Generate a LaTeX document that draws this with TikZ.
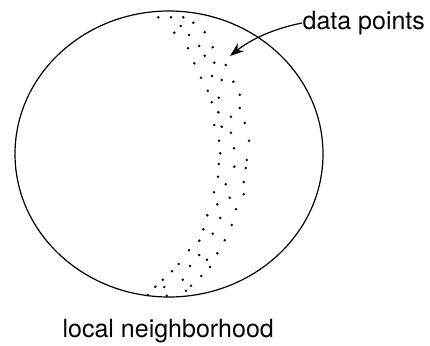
\documentclass[tikz,border=0pt]{standalone}
\usepackage{fontspec}
\setmainfont{TeX Gyre Heros}
\usetikzlibrary{arrows.meta}
\tikzset{
  lbl/.style={inner sep=0pt, anchor=base west},
  pt/.style={fill=black}
}
\begin{document}
\begin{tikzpicture}[x=1pt, y=-1pt, line width=1.2pt]
    \useasboundingbox (0,0) rectangle (430,345);
    \draw (169,154) ellipse [x radius=154pt, y radius=143pt];
    \foreach \x/\y in {158.3/17.3, 171/17.3, 183.3/17.3, 180.7/26, 193.3/22.7, 174.3/32.7, 189/35, 204.7/32.3,
        188/48.3, 199.3/46, 212.7/47.3, 204.7/55.7, 194.3/63.3, 214.3/62.7, 225.7/65, 201/77.7, 212/76,
        221.7/80, 233.3/81.7, 207.7/90.7, 218.7/97.7, 239.7/94.7, 211.7/102.3, 218.3/112.3, 239.7/108,
        231/116.7, 214.3/125, 221.7/126.7, 244.7/123, 231/132.7, 219/140.7, 249/140.7, 234/148.3,
        220.3/153.3, 246.7/160, 218.7/164, 234.3/166.7, 245.7/168, 218/176.7, 225.7/184.3, 243.7/182,
        214/192.3, 229.7/197.7, 243.7/194.3, 217.3/204.3, 236/209.3, 207.3/215.3, 220.3/218, 231.7/225,
        203.3/229.3, 212.7/233.7, 199.3/240.7, 224.7/240.3, 189/250.3, 199.3/255, 217.3/253.3, 207/259.7,
        178.7/264, 190/266, 210/267, 172/271.3, 201.3/276, 162.7/279.7, 182.7/279.7, 191/285.7,
        155.3/286.7, 164.3/287, 186/290.7, 147.7/295, 166.7/295.7}
        \fill[pt] (\x,\y) circle (1.4pt);
    \node[lbl] (dp) at (302,30) {\fontsize{25}{30}\selectfont data points};
    \coordinate (tip) at (230,56);
    \draw[-{Stealth[length=14pt, width=10pt]}] (dp.west |- 0,23) .. controls (272,29) and (250,40) .. (tip);
    \node[lbl] (ln) at (62,337) {\fontsize{25}{30}\selectfont local neighborhood};
\end{tikzpicture}
\end{document}
